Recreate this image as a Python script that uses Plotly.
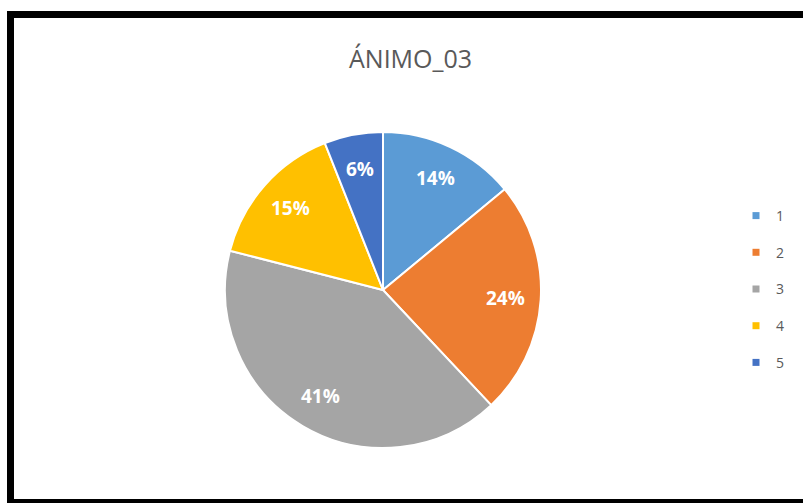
import math
import plotly.graph_objects as go

# Mood survey answers for ÁNIMO_03 (share of responses, %)
categories = ["1", "2", "3", "4", "5"]
values = [14, 24, 41, 15, 6]
colors = ["#5B9BD5", "#ED7D31", "#A5A5A5", "#FFC000", "#4472C4"]
title_text = "ÁNIMO_03"

W, H = 803, 503

def px_x(p):
    return p / W

def px_y(p):
    return 1 - p / H

# pie placement (pixels) -> paper domain
pie_left, pie_top, pie_size = 225, 132, 316
dom_x = [px_x(pie_left), px_x(pie_left + pie_size)]
dom_y = [px_y(pie_top + pie_size), px_y(pie_top)]

fig = go.Figure()
fig.add_trace(go.Pie(
    labels=categories,
    values=values,
    sort=False,
    direction="clockwise",
    rotation=0,
    marker=dict(colors=colors, line=dict(color="white", width=2)),
    textinfo="none",
    hoverinfo="label+percent",
    showlegend=False,
    domain=dict(x=dom_x, y=dom_y),
))

# legend entries with small square swatches
for i, (cat, col) in enumerate(zip(categories, colors)):
    fig.add_trace(go.Scatter(
        x=[None], y=[None], mode="markers", name=cat,
        legendgroup=f"g{i}",
        marker=dict(symbol="square", size=7, color=col),
    ))

# percentage labels placed along each slice's mid-angle
cx = pie_left + pie_size / 2
cy = pie_top + pie_size / 2
r = pie_size / 2
total = sum(values)
cum = 0
annotations = []
for v in values:
    mid = (cum + v / 2) / total * 2 * math.pi
    cum += v
    lx = cx + 0.78 * r * math.sin(mid)
    ly = cy - 0.78 * r * math.cos(mid)
    annotations.append(dict(
        x=px_x(lx), y=px_y(ly), xref="paper", yref="paper",
        text=f"<b>{round(v / total * 100)}%</b>", showarrow=False,
        font=dict(family="Open Sans", size=19, color="white"),
        xanchor="center", yanchor="middle",
    ))

annotations.append(dict(
    x=px_x(410), y=px_y(58), xref="paper", yref="paper",
    text=title_text, showarrow=False,
    font=dict(family="Open Sans", size=25, color="#595959"),
    xanchor="center", yanchor="middle",
))

fig.update_layout(
    width=W, height=H,
    margin=dict(l=0, r=0, t=0, b=0),
    paper_bgcolor="white", plot_bgcolor="white",
    xaxis=dict(visible=False), yaxis=dict(visible=False),
    annotations=annotations,
    showlegend=True,
    legend=dict(
        x=px_x(736), y=px_y(200), xanchor="left", yanchor="top",
        font=dict(family="Open Sans", size=14, color="#595959"),
        tracegroupgap=15.5, bgcolor="rgba(0,0,0,0)",
    ),
    shapes=[dict(
        type="rect", xref="paper", yref="paper",
        x0=px_x(10.5), x1=px_x(840), y0=px_y(502.5), y1=px_y(14.5),
        line=dict(color="black", width=7),
        fillcolor="rgba(0,0,0,0)",
    )],
)

fig.write_html("out.html")
